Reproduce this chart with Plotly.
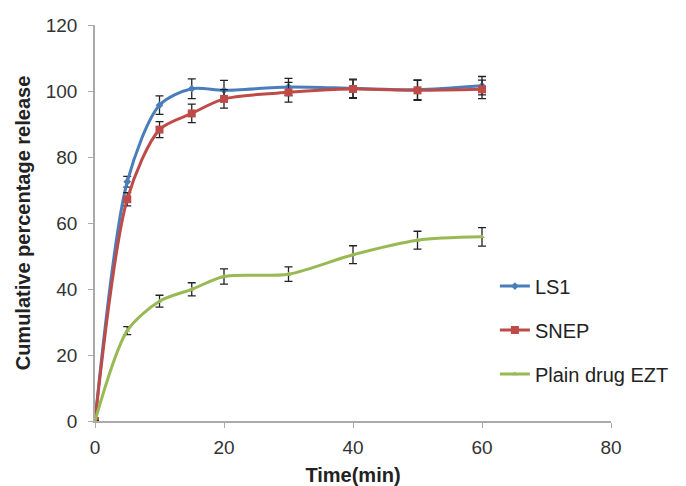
import plotly.graph_objects as go

time_min = [0, 5, 10, 15, 20, 30, 40, 50, 60]
ls1 = [0, 72.5, 95.7, 100.7, 100.2, 101.2, 100.8, 100.4, 101.6]
ls1_err = [0, 1.6, 2.8, 3.0, 3.0, 2.6, 2.8, 3.0, 2.8]
snep = [0, 67.2, 88.3, 93.2, 97.6, 99.6, 100.6, 100.2, 100.5]
snep_err = [0, 2.0, 2.4, 2.8, 2.8, 3.0, 2.8, 3.0, 2.8]
ezt = [0, 27.4, 36.3, 39.9, 43.8, 44.5, 50.4, 54.8, 55.8]
ezt_err = [0, 1.2, 1.8, 2.0, 2.3, 2.2, 2.7, 2.7, 2.8]

names = ["LS1", "SNEP", "Plain drug EZT"]
colors = ["#4A7EBB", "#BE4B48", "#98B954"]
symbols = ["diamond", "square", "triangle-up"]
sizes = [6, 8, 5]

fig = go.Figure()
for name, y, err, c, s, sz in zip(names, [ls1, snep, ezt], [ls1_err, snep_err, ezt_err], colors, symbols, sizes):
    fig.add_trace(go.Scatter(
        x=time_min, y=y, name=name, mode="lines+markers",
        legendgroup=name,
        line=dict(color=c, width=3, shape="spline", smoothing=0.8),
        marker=dict(symbol=s, size=sz, color=c),
        error_y=dict(type="data", array=err, visible=True, color="#222222", thickness=1.3, width=4),
    ))

fig.update_layout(
    width=686, height=486,
    margin=dict(l=95, r=71, t=25, b=65),
    paper_bgcolor="white", plot_bgcolor="white",
    font=dict(family="Liberation Sans, Arial, sans-serif", size=19, color="#333333"),
    showlegend=True,
    legend=dict(x=0.775, y=0.39, xanchor="left", yanchor="top",
                bgcolor="rgba(0,0,0,0)", font=dict(size=20, color="#222222"),
                tracegroupgap=15, itemwidth=30),
)
fig.update_xaxes(range=[0, 80], tickvals=[0, 20, 40, 60, 80], showgrid=False, zeroline=False,
                 showline=True, linecolor="#AAAAAA", linewidth=1.5, ticks="outside", ticklen=5,
                 tickcolor="#AAAAAA", ticklabelstandoff=3, automargin=False,
                 title=dict(text="<b>Time(min)</b>", font=dict(size=20, color="#222222"), standoff=14))
fig.update_yaxes(range=[0, 120], tickvals=[0, 20, 40, 60, 80, 100, 120], showgrid=False, zeroline=False,
                 showline=True, linecolor="#AAAAAA", linewidth=1.5, ticks="outside", ticklen=5,
                 tickcolor="#AAAAAA", ticklabelstandoff=7, automargin=False,
                 title=dict(text="<b>Cumulative percentage release</b>", font=dict(size=20, color="#222222"), standoff=10))

fig.write_html("out.html")
